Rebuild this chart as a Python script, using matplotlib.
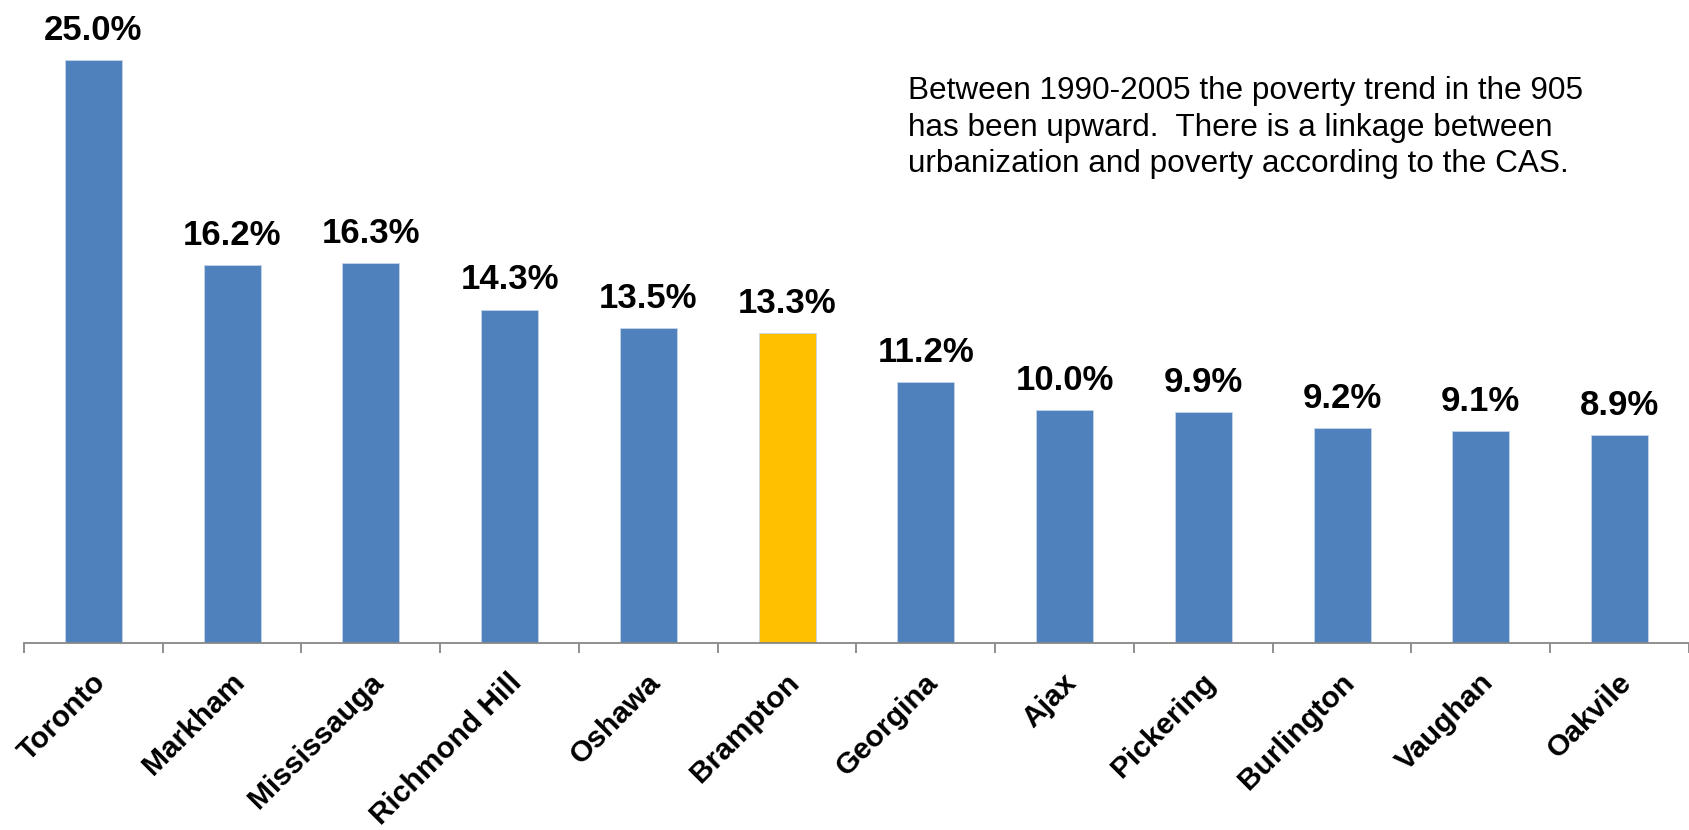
import numpy as np
import matplotlib
matplotlib.use('Agg')
import matplotlib.pyplot as plt
import matplotlib.transforms as mtransforms

cities = ['Toronto', 'Markham', 'Mississauga', 'Richmond Hill', 'Oshawa', 'Brampton',
          'Georgina', 'Ajax', 'Pickering', 'Burlington', 'Vaughan', 'Oakvile']
poverty_rate = [25.0, 16.2, 16.3, 14.3, 13.5, 13.3, 11.2, 10.0, 9.9, 9.2, 9.1, 8.9]
highlight = 'Brampton'

note = ('Between 1990-2005 the poverty trend in the 905\n'
        'has been upward.  There is a linkage between\n'
        'urbanization and poverty according to the CAS.')

plt.rcParams['font.family'] = ['Liberation Sans', 'DejaVu Sans']

blue = '#4F81BD'
gold = '#FFC000'
grey = '#878787'

fig = plt.figure(figsize=(16.9, 8.3), dpi=100)
ax = fig.add_axes([24 / 1690, 187 / 830, 1665 / 1690, 643 / 830])

x = np.arange(len(cities))
colors = [gold if c == highlight else blue for c in cities]
bars = ax.bar(x, poverty_rate, width=0.41, color=colors, edgecolor='#C6D5EA', linewidth=0.6)

# value labels above the bars
for xi, v in zip(x, poverty_rate):
    ax.annotate('%.1f%%' % v, (xi, v), xytext=(0, 14.5), textcoords='offset points',
                ha='center', va='baseline', fontsize=25, fontweight='bold',
                annotation_clip=False)

ax.set_xlim(-0.5, len(cities) - 0.5)
ax.set_ylim(0, 643 / 23.32)

for side in ['left', 'right', 'top']:
    ax.spines[side].set_visible(False)
ax.spines['bottom'].set_color(grey)
ax.spines['bottom'].set_linewidth(1.3)
ax.yaxis.set_visible(False)

ax.set_xticks(x)
ax.set_xticklabels(cities, rotation=45, ha='right', va='top', rotation_mode='anchor',
                   fontsize=21.5, fontweight='bold')
ax.set_xticks(np.arange(len(cities) + 1) - 0.5, minor=True)
ax.tick_params(axis='x', which='major', length=0, pad=18)
ax.tick_params(axis='x', which='minor', length=7, width=1.3, color=grey, direction='out')

shift = mtransforms.ScaledTranslation(-2 / 100, 0, fig.dpi_scale_trans)
for lab in ax.get_xticklabels():
    lab.set_transform(lab.get_transform() + shift)

fig.text(908 / 1690, 1 - 76 / 830, note, ha='left', va='top', fontsize=22.7,
         linespacing=1.29, color='#000000')

fig.savefig('out.png', dpi=100)
